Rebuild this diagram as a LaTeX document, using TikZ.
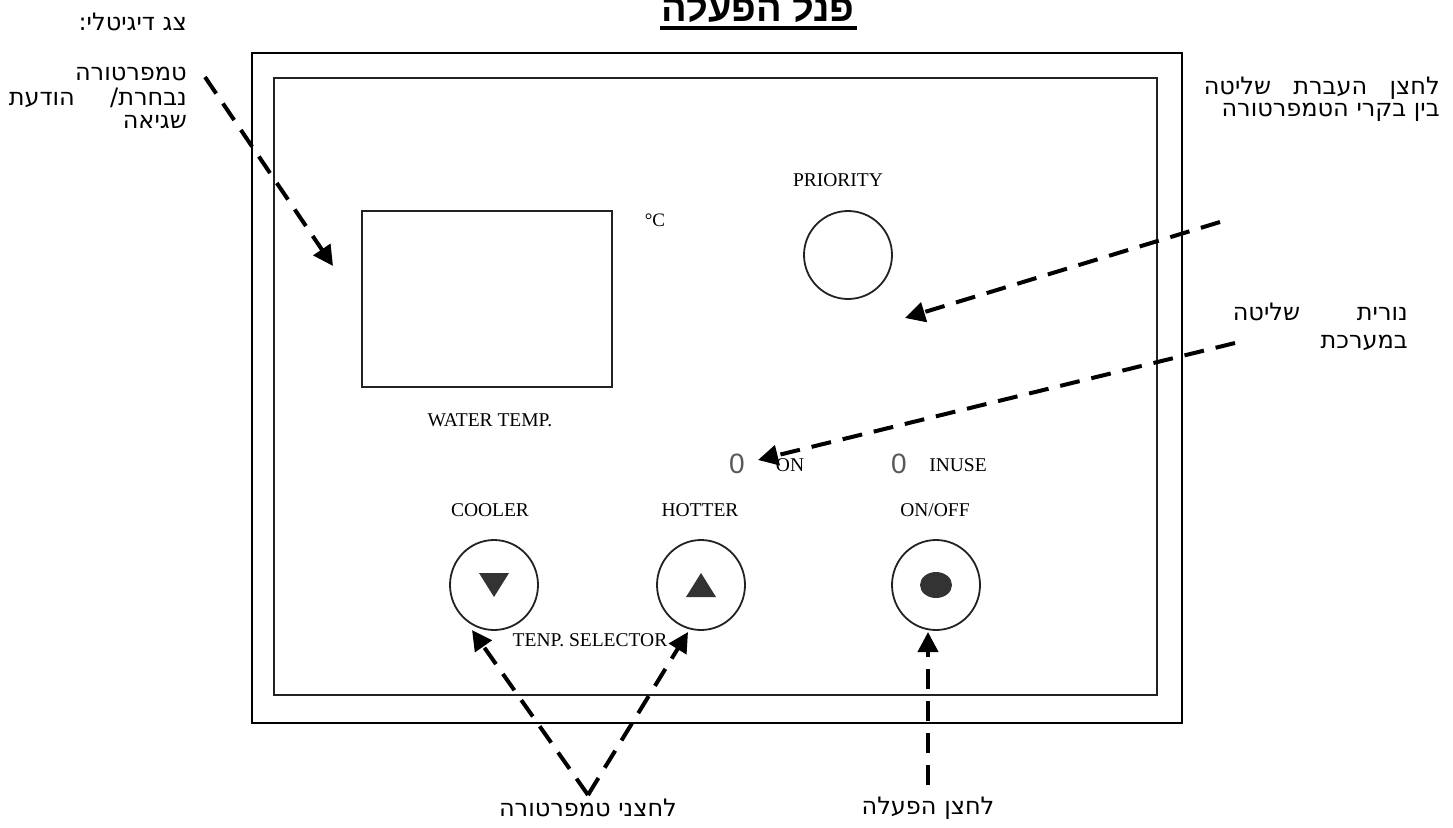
\documentclass[tikz,border=0pt]{standalone}
\usepackage{fontspec}
\usetikzlibrary{arrows.meta,shapes.geometric,calc}
\TeXXeTstate=1
\newfontfamily\heb[Script=Hebrew]{DejaVu Sans}
\newfontfamily\hebtitle[Script=Hebrew]{Liberation Sans}
\newfontfamily\lab{Liberation Serif}
\newfontfamily\ledf{Liberation Sans}
\definecolor{ink}{HTML}{222222}
\definecolor{fillk}{HTML}{333333}
\begin{document}
\begin{tikzpicture}[x=1pt,y=-1pt,
  hebt/.style={font=\heb\fontsize{24}{28}\selectfont, inner sep=0pt},
  lbl/.style={font=\lab\fontsize{19.5}{22}\selectfont, inner sep=0pt},
  ledt/.style={font=\ledf\fontsize{28}{30}\selectfont, text=black!65, inner sep=0pt},
  arr/.style={line width=4pt, dash pattern=on 20pt off 12pt, -{Triangle[length=20pt,width=20pt]}},
  btn/.style={ellipse, draw=ink, line width=1.8pt, minimum width=88pt, minimum height=90pt, inner sep=0pt},
  frame/.style={draw=ink, line width=2pt}]
\useasboundingbox (0,0) rectangle (1453,827);
\fill[white] (0,0) rectangle (1453,827);

% title
\node[font=\hebtitle\bfseries\fontsize{38}{40}\selectfont, inner sep=0pt] (title) at (758,7) {\beginR פנל הפעלה\endR};
\draw[line width=3.5pt] (660,28) -- (857,28);

% panel frames
\node[draw=black, line width=2.5pt, minimum width=930pt, minimum height=670pt, inner sep=0pt] (outer) at (717,388) {};
\node[frame, minimum width=883pt, minimum height=617pt, inner sep=0pt] (inner) at (715.5,386.5) {};

% display
\node[frame, minimum width=250pt, minimum height=176pt, inner sep=0pt] (disp) at (487,299) {};
\node[lbl, font=\lab\fontsize{19}{22}\selectfont] (degc) at (655,220) {°C};
\node[lbl] (wt) at (490,420) {WATER TEMP.};

% priority
\node[lbl] (prt) at (838,180) {PRIORITY};
\node[circle, draw=ink, line width=1.8pt, minimum size=88pt, inner sep=0pt] (prio) at (848,255) {};

% leds
\node[ledt] (led1) at (737,464) {0};
\node[lbl] (ont) at (790,465) {ON};
\node[ledt] (led2) at (899,464) {0};
\node[lbl] (inuse) at (958,465) {INUSE};

% buttons
\node[lbl] (coolt) at (490,510) {COOLER};
\node[lbl] (hott) at (700,510) {HOTTER};
\node[lbl] (onofft) at (935,510) {ON/OFF};
\node[btn] (cool) at (494,585) {};
\node[btn] (hot) at (701,585) {};
\node[btn] (onoff) at (936,585) {};
\fill[fillk] ($(cool)+(-15,-12)$) -- ($(cool)+(15,-12)$) -- ($(cool)+(0,12)$) -- cycle;
\fill[fillk] ($(hot)+(-15,12)$) -- ($(hot)+(15,12)$) -- ($(hot)+(0,-12)$) -- cycle;
\fill[fillk] (onoff) ellipse[x radius=16, y radius=13];
\node[lbl] (sel) at (590,640) {TENP. SELECTOR};

% hebrew labels
\node[hebt, anchor=east] (h1) at (187,22) {\beginR צג דיגיטלי:\endR};
\node[hebt, anchor=east] (h2) at (187,74) {\beginR טמפרטורה\endR};
\node[hebt, anchor=east] (h3) at (187,98) {\makebox[178pt][s]{\beginR נבחרת/ הודעת\endR}};
\node[hebt, anchor=east] (h4) at (187,122) {\beginR שגיאה\endR};

\node[hebt, anchor=east] (p1) at (1440,88) {\makebox[236pt][s]{\beginR לחצן העברת שליטה\endR}};
\node[hebt, anchor=east] (p2) at (1440,112) {\beginR בין בקרי הטמפרטורה\endR};

\node[hebt, anchor=east] (n1) at (1408,312) {\makebox[175pt][s]{\beginR נורית שליטה\endR}};
\node[hebt, anchor=east] (n2) at (1408,343) {\beginR במערכת\endR};

\node[hebt] (b1) at (588,808) {\beginR לחצני טמפרטורה\endR};
\node[hebt] (b2) at (928,808) {\beginR לחצן הפעלה\endR};

% connector end points
\coordinate (dstart) at (205,77);
\coordinate (dtip) at ($(disp.north west)+(-28,56)$);
\coordinate (pstart) at (1220,222);
\coordinate (ptip) at ($(prio.center)+(57,63)$);
\coordinate (lstart) at (1235,343);
\coordinate (ltip) at ($(led1.center)+(21,-4)$);
\coordinate (apex) at (588,795);
\coordinate (ctip) at ($(cool.center)+(-22,45)$);
\coordinate (htip) at ($(hot.center)+(-13,47)$);
\coordinate (ostart) at (928,785);
\coordinate (otip) at ($(onoff.center)+(-8,47)$);

\draw[arr] (dstart) -- (dtip);
\draw[arr] (pstart) -- (ptip);
\draw[arr] (lstart) -- (ltip);
\draw[arr] (apex) -- (ctip);
\draw[arr] (apex) -- (htip);
\draw[arr] (ostart) -- (otip);
\end{tikzpicture}
\end{document}
